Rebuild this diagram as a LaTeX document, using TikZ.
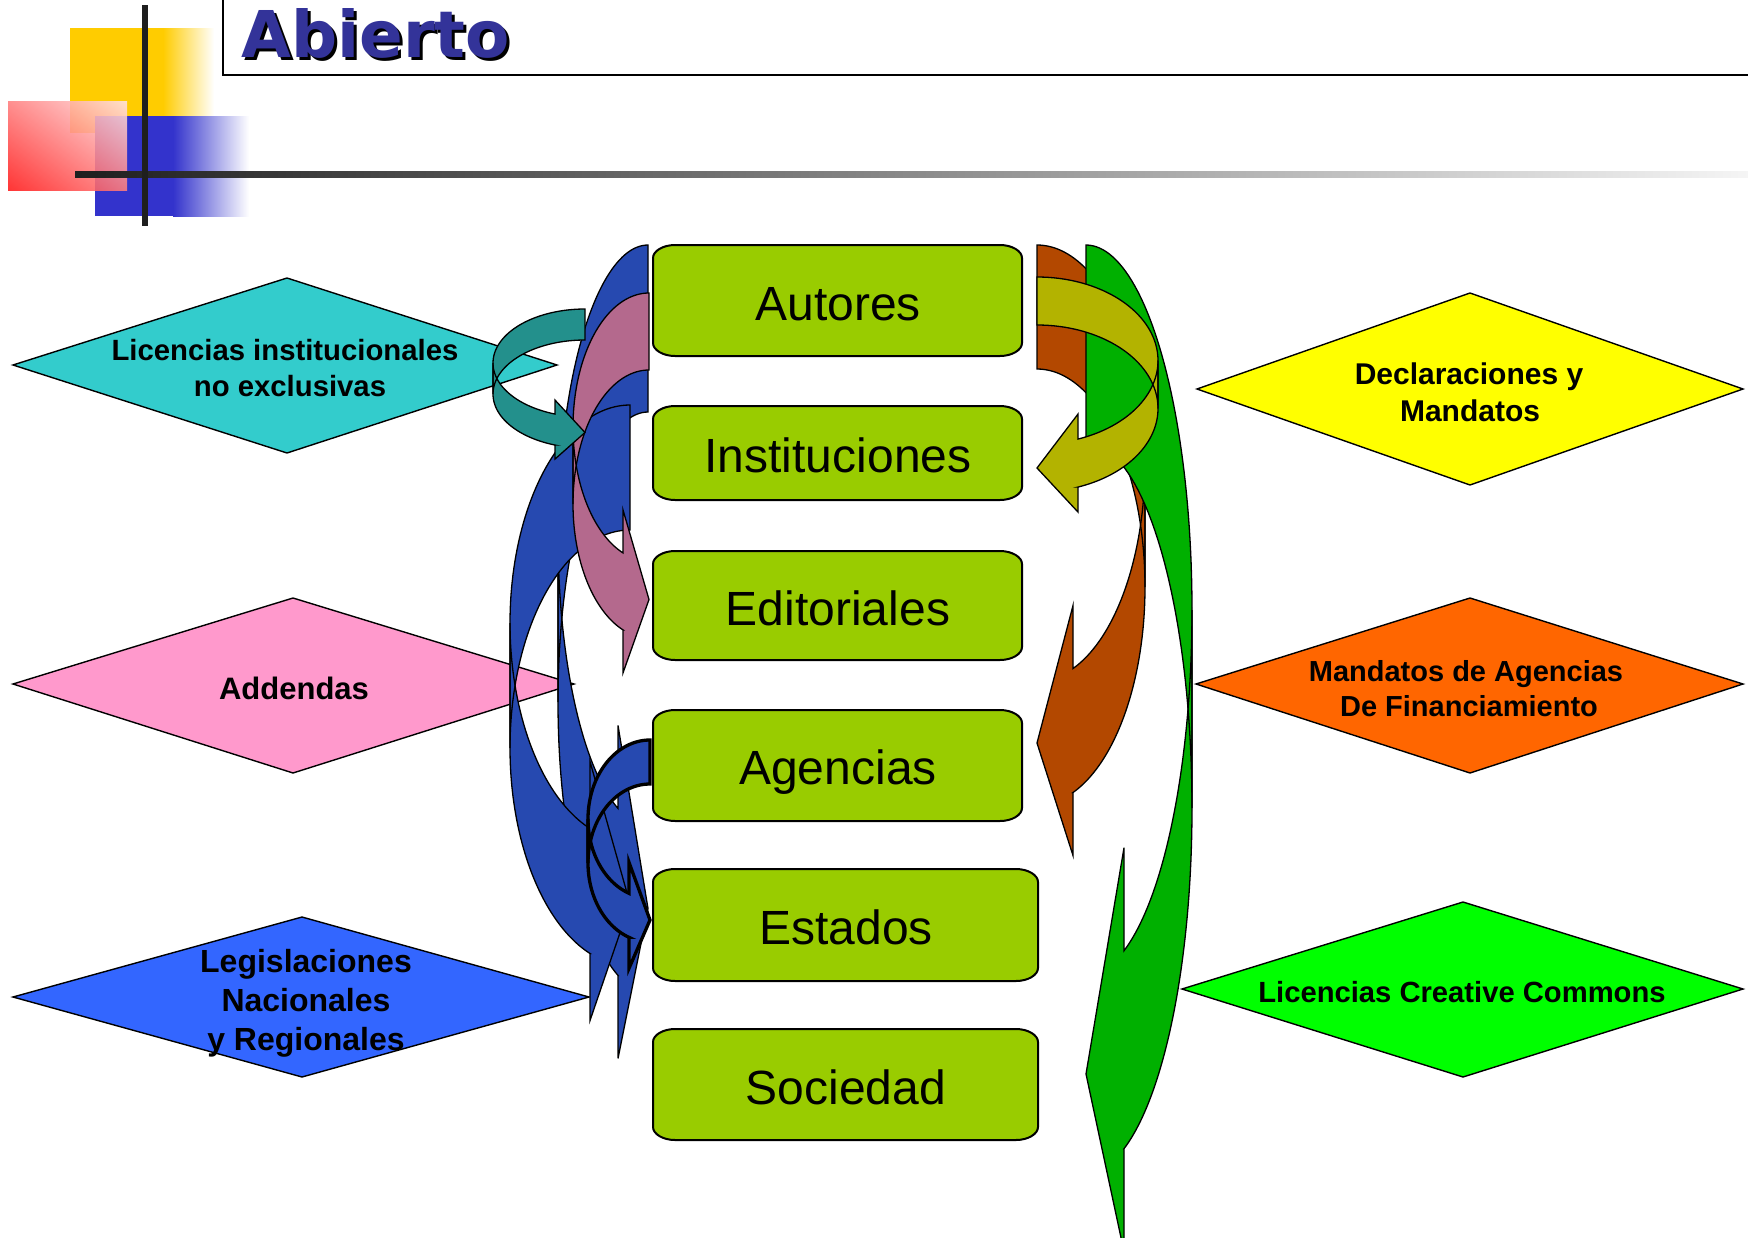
\documentclass[tikz,border=0pt]{standalone}
\usepackage{fontspec}
\setmainfont{Liberation Sans}
\newfontfamily\titlefont{DejaVu Sans}
\usetikzlibrary{shadings}
\definecolor{arrblue}{HTML}{2649B0}
\definecolor{arrpink}{HTML}{B4698D}
\definecolor{arrteal}{HTML}{23908C}
\definecolor{arrbrown}{HTML}{B34800}
\definecolor{arrgreen}{HTML}{00B000}
\definecolor{arrolive}{HTML}{B3B300}
\definecolor{boxgreen}{HTML}{99CC00}
\definecolor{dcyan}{HTML}{33CCCC}
\definecolor{dpink}{HTML}{FF99CC}
\definecolor{dblue}{HTML}{3366FF}
\definecolor{dyellow}{HTML}{FFFF00}
\definecolor{dorange}{HTML}{FF6600}
\definecolor{dgreen}{HTML}{00FF00}
\definecolor{logoyellow}{HTML}{FFCC00}
\definecolor{logoblue}{HTML}{3333CC}
\definecolor{titleblue}{HTML}{333399}
\definecolor{logored}{HTML}{FF1A1A}
\definecolor{logoredmid}{HTML}{FF8080}
\definecolor{logoredlight}{HTML}{FFE4E4}

% curved arrow (PowerPoint-like): #1 r (tail/tip x), #2 L (extreme x), #3 top y,
% #4 vertical radius, #5 thickness, #6 head length (signed), #7 barb, #8 colour, #9 line width
\newcommand{\curvedarrow}[9]{%
  \pgfmathsetmacro{\arR}{#1}%
  \pgfmathsetmacro{\arL}{#2}%
  \pgfmathsetmacro{\arT}{#3}%
  \pgfmathsetmacro{\arhR}{#4}%
  \pgfmathsetmacro{\arth}{#5}%
  \pgfmathsetmacro{\arah}{#6}%
  \pgfmathsetmacro{\ardh}{#7}%
  \pgfmathsetmacro{\arW}{\arR-\arL}%
  \pgfmathsetmacro{\arbeta}{acos((\arah)/(\arW))}%
  \pgfmathsetmacro{\arya}{\arT+\arhR}%
  \pgfmathsetmacro{\aryb}{\arT+\arhR+\arth}%
  \pgfmathsetmacro{\arxa}{\arR-(\arah)}%
  \pgfmathsetmacro{\aryv}{\arya+\arhR*sin(\arbeta)}%
  \pgfmathsetmacro{\aryvii}{\aryv+\arth}%
  \pgfmathsetmacro{\aryiv}{\aryv-\ardh}%
  \pgfmathsetmacro{\aryviii}{\aryvii+\ardh}%
  \pgfmathsetmacro{\aryvi}{\arT+2*\arhR+\arth/2}%
  \pgfmathsetmacro{\arend}{90+\arbeta}%
  \fill[#8] (\arR,\arT) -- plot[domain=0:90, samples=50] ({\arR-(\arW)*sin(\x)}, {\arya-\arhR*cos(\x)})
    -- (\arL,\aryb) -- plot[domain=90:0, samples=50] ({\arR-(\arW)*sin(\x)}, {\aryb-\arhR*cos(\x)}) -- cycle;
  \fill[#8] (\arL,\arya) -- plot[domain=90:\arend, samples=50] ({\arR-(\arW)*sin(\x)}, {\arya-\arhR*cos(\x)})
    -- (\arxa,\aryiv) -- (\arR,\aryvi) -- (\arxa,\aryviii) -- (\arxa,\aryvii)
    -- plot[domain=\arend:90, samples=50] ({\arR-(\arW)*sin(\x)}, {\aryb-\arhR*cos(\x)}) -- cycle;
  \draw[line width=#9, line join=miter] (\arR,\arT) -- plot[domain=0:90, samples=50] ({\arR-(\arW)*sin(\x)}, {\arya-\arhR*cos(\x)})
    -- (\arL,\aryb) -- plot[domain=90:0, samples=50] ({\arR-(\arW)*sin(\x)}, {\aryb-\arhR*cos(\x)}) -- cycle;
  \draw[line width=#9, line join=miter] (\arL,\arya) -- plot[domain=90:\arend, samples=50] ({\arR-(\arW)*sin(\x)}, {\arya-\arhR*cos(\x)})
    -- (\arxa,\aryiv) -- (\arR,\aryvi) -- (\arxa,\aryviii) -- (\arxa,\aryvii)
    -- plot[domain=\arend:90, samples=50] ({\arR-(\arW)*sin(\x)}, {\aryb-\arhR*cos(\x)}) -- cycle;
}

% green box with elliptic corners: #1 left, #2 top, #3 right, #4 bottom
\newcommand{\greenbox}[4]{%
  \filldraw[gbox] (#1+22,#2) -- (#3-22,#2) .. controls (#3-10,#2) and (#3,#2+6) .. (#3,#2+13)
    -- (#3,#4-13) .. controls (#3,#4-6) and (#3-10,#4) .. (#3-22,#4)
    -- (#1+22,#4) .. controls (#1+10,#4) and (#1,#4-6) .. (#1,#4-13)
    -- (#1,#2+13) .. controls (#1,#2+6) and (#1+10,#2) .. (#1+22,#2) -- cycle;
}

\tikzset{
  diam/.style={draw=black, line width=1.4pt, line join=miter},
  gbox/.style={draw=black, line width=2pt, fill=boxgreen},
  boxtext/.style={font=\fontsize{48}{56}\selectfont, inner sep=0pt, anchor=base},
  dtext/.style={font=\bfseries, inner sep=0pt, anchor=base},
}

\begin{document}
\begin{tikzpicture}[x=1pt,y=-1pt]
\useasboundingbox (0,0) rectangle (1748,1237);
\clip (0,0) rectangle (1748,1237);
\fill[white] (0,0) rectangle (1748,1237);

% ---------- logo ----------
\fill[logoyellow] (70,28) rectangle (164,133);
\shade[left color=logoyellow, right color=white] (163,28) rectangle (214,133);
\fill[logoblue] (95,116) rectangle (174,216);
\shade[left color=logoblue, right color=white] (173,116) rectangle (249,216);
\shade[lower left=logored, upper left=logoredmid, lower right=logoredmid, upper right=logoredlight, opacity=0.88] (8,101) rectangle (127,190);
\shade[left color=black!88, right color=black!4] (75,171) rectangle (1748,177);
\fill[black!88] (142,5) rectangle (148,226);

% ---------- title ----------
\draw[line width=2pt] (223,-2) -- (223,75) -- (1752,75);
\node[anchor=base west, inner sep=0pt, text=black, font=\titlefont\bfseries\fontsize{64.5}{70}\selectfont] (titleshadow) at (244,60) {Abierto};
\node[anchor=base west, inner sep=0pt, text=titleblue, font=\titlefont\bfseries\fontsize{64.5}{70}\selectfont] (title) at (241,57) {Abierto};

% ---------- diamonds ----------
\filldraw[diam, fill=dcyan] (13,365) -- (287,278) -- (557,365) -- (287,453) -- cycle;
\filldraw[diam, fill=dpink] (13,684) -- (293,598) -- (574,684) -- (293,773) -- cycle;
\filldraw[diam, fill=dblue] (13,997) -- (302,917) -- (589,997) -- (302,1077) -- cycle;
\filldraw[diam, fill=dyellow] (1197,389) -- (1470,293) -- (1743,389) -- (1470,485) -- cycle;
\filldraw[diam, fill=dorange] (1196,684) -- (1470,598) -- (1743,684) -- (1470,773) -- cycle;
\filldraw[diam, fill=dgreen] (1182,989) -- (1463,902) -- (1743,989) -- (1463,1077) -- cycle;

\node[dtext, font=\bfseries\fontsize{29.3}{35}\selectfont] (lic1) at (285,360) {Licencias institucionales};
\node[dtext, font=\bfseries\fontsize{29.3}{35}\selectfont] (lic2) at (290,396) {no exclusivas};
\node[dtext, font=\bfseries\fontsize{31}{37}\selectfont] (add) at (294,699) {Addendas};
\node[dtext, font=\bfseries\fontsize{32}{39}\selectfont] (leg1) at (306,972) {Legislaciones};
\node[dtext, font=\bfseries\fontsize{32}{39}\selectfont] (leg2) at (306,1011) {Nacionales};
\node[dtext, font=\bfseries\fontsize{32}{39}\selectfont] (leg3) at (306,1050) {y Regionales};
\node[dtext, font=\bfseries\fontsize{30}{37}\selectfont] (dec1) at (1469,384) {Declaraciones y};
\node[dtext, font=\bfseries\fontsize{30}{37}\selectfont] (dec2) at (1470,421) {Mandatos};
\node[dtext, font=\bfseries\fontsize{29}{35}\selectfont] (man1) at (1466,681) {Mandatos de Agencias};
\node[dtext, font=\bfseries\fontsize{29}{35}\selectfont] (man2) at (1469,716) {De Financiamiento};
\node[dtext, font=\bfseries\fontsize{29.2}{35}\selectfont] (cc) at (1462,1002) {Licencias Creative Commons};

% ---------- green boxes ----------
\greenbox{653}{245}{1022}{356}
\greenbox{653}{406}{1022}{500}
\greenbox{653}{551}{1022}{660}
\greenbox{653}{710}{1022}{821}
\greenbox{653}{869}{1038}{981}
\greenbox{653}{1029}{1038}{1140}
\node[boxtext] (autores) at (838,320) {Autores};
\node[boxtext] (inst) at (838,472) {Instituciones};
\node[boxtext] (edit) at (838,625) {Editoriales};
\node[boxtext] (agen) at (838,784) {Agencias};
\node[boxtext] (est) at (846,944) {Estados};
\node[boxtext] (soc) at (846,1104) {Sociedad};

% ---------- left arrows ----------
\curvedarrow{648}{558}{245}{290}{167}{30}{83}{arrblue}{1.3pt}
\curvedarrow{630}{510}{405}{218}{125}{40}{67}{arrblue}{1.3pt}
\curvedarrow{649}{573}{293}{134}{77}{26}{43}{arrpink}{1.3pt}
\curvedarrow{585}{493}{309}{54}{31}{30}{14}{arrteal}{1.3pt}
\curvedarrow{650}{588}{740}{79}{44}{21}{31}{arrblue}{3.3pt}

% ---------- right arrows ----------
\curvedarrow{1037}{1145}{245}{218}{124}{-36}{63}{arrbrown}{1.3pt}
\curvedarrow{1086}{1192}{245}{365}{198}{-38}{103}{arrgreen}{1.3pt}
\curvedarrow{1037}{1158}{277}{83.5}{48}{-41}{25}{arrolive}{1.3pt}
\end{tikzpicture}
\end{document}
